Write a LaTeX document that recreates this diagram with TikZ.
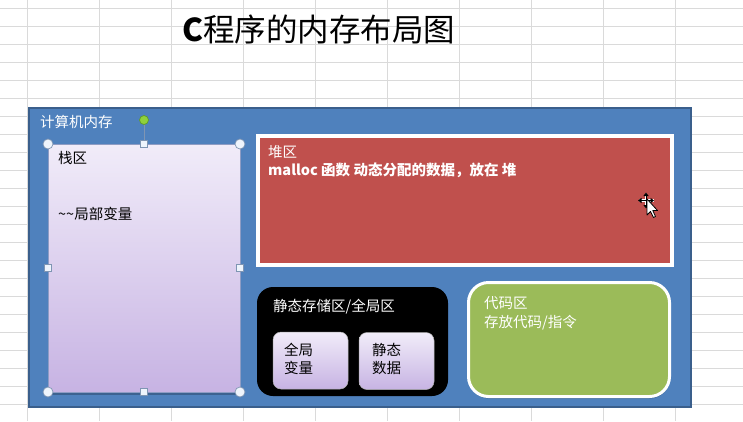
\documentclass[tikz,border=0pt]{standalone}
\usepackage{fontspec}
\setmainfont{Noto Sans CJK SC}
\usetikzlibrary{shadows,arrows.meta}
\definecolor{gridgray}{HTML}{DADADA}
\definecolor{memblue}{HTML}{4F81BD}
\definecolor{memedge}{HTML}{3A5F8C}
\definecolor{heapred}{HTML}{C0504D}
\definecolor{codegreen}{HTML}{9BBB59}
\definecolor{lavtop}{HTML}{F1ECF9}
\definecolor{lavbot}{HTML}{C7B3E3}
\definecolor{lavedge}{HTML}{8E9CC4}
\definecolor{handleedge}{HTML}{7F95B3}
\definecolor{handlefill}{HTML}{EEF4FC}
\definecolor{rotgreen}{HTML}{8FD13B}
\definecolor{rotedge}{HTML}{5E9A2A}
\tikzset{
  txt/.style={inner sep=0pt, font=\fontsize{14.5}{18}\selectfont, align=left},
  memory/.style={draw=memedge, line width=2pt, fill=memblue, inner sep=0pt,
    minimum width=662pt, minimum height=299pt},
  stackbox/.style={draw=lavedge, line width=0.6pt, top color=lavtop, bottom color=lavbot,
    inner sep=0pt, minimum width=192pt, minimum height=248pt,
    drop shadow={shadow xshift=0.5pt, shadow yshift=-2.5pt, fill=memedge, opacity=0.9}},
  heapbox/.style={draw=white, line width=4pt, fill=heapred, inner sep=0pt,
    minimum width=414pt, minimum height=129pt,
    drop shadow={shadow xshift=0.5pt, shadow yshift=-2pt, fill=memedge, opacity=0.8}},
  staticbox/.style={fill=black, rounded corners=16pt, inner sep=0pt,
    minimum width=191pt, minimum height=109pt},
  innerbox/.style={draw=gray!60, line width=0.5pt, top color=lavtop, bottom color=lavbot,
    rounded corners=8pt, inner sep=0pt, minimum width=75pt, minimum height=57pt},
  codebox/.style={draw=white, line width=3pt, fill=codegreen, rounded corners=20pt,
    inner sep=0pt, minimum width=201pt, minimum height=114pt,
    drop shadow={shadow xshift=0.5pt, shadow yshift=-2pt, fill=memedge, opacity=0.8}},
  cornerhandle/.style={circle, draw=handleedge, line width=0.7pt, fill=handlefill,
    inner sep=0pt, minimum size=10pt},
  sidehandle/.style={rectangle, draw=handleedge, line width=0.7pt, fill=handlefill,
    inner sep=0pt, minimum size=7.5pt},
  rothandle/.style={circle, draw=rotedge, line width=0.7pt, fill=rotgreen,
    inner sep=0pt, minimum size=9pt},
}
\begin{document}
\begin{tikzpicture}[x=1pt,y=-1pt]
\useasboundingbox (0,0) rectangle (743,421);
\fill[white] (0,0) rectangle (743,421);
% spreadsheet grid
\foreach \gx in {27.5,99.5,...,675.5} \draw[gridgray, line width=1pt] (\gx,0) -- (\gx,421);
\foreach \gy in {8.3,26.3,...,405} \draw[gridgray, line width=1pt] (0,\gy) -- (743,\gy);
% title
\node[anchor=west, inner sep=0pt, font=\fontsize{31.5}{36}\selectfont] (title) at (182,29) {{\bfseries C}程序的内存布局图};
% memory frame
\node[memory] (mem) at (360,257.5) {};
\node[txt, anchor=west, text=white] (memlabel) at (40,122) {计算机内存};
% stack
\node[stackbox] (stack) at (144,268) {};
\node[txt, anchor=north west, font=\fontsize{14.5}{18.7}\selectfont] (stacktext) at (58,151.3) {栈区\\[37.3pt]\textasciitilde\textasciitilde 局部变量};
% heap
\node[heapbox] (heap) at (465,200.5) {};
\node[txt, anchor=north west, text=white] (heaptext) at (268,145.3) {堆区\\{\bfseries malloc 函数 动态分配的数据，放在 堆}};
% static area
\node[staticbox] (static) at (352.5,341.5) {};
\node[txt, anchor=west, text=white] (statictext) at (273,307) {静态存储区/全局区};
\node[innerbox] (global) at (310.5,360.5) {};
\node[txt, anchor=north west] (globaltext) at (284,343.3) {全局\\变量};
\node[innerbox] (staticdata) at (396.5,361) {};
\node[txt, anchor=north west] (staticdatatext) at (372,343.3) {静态\\数据};
% code area
\node[codebox] (code) at (569,339.5) {};
\node[txt, anchor=north west, text=white, font=\fontsize{14.5}{19}\selectfont] (codetext) at (484,296.3) {代码区\\存放代码/指令};
% selection handles of the stack box
\node[sidehandle] (hT) at (144,144) {};
\node[rothandle] (rot) at (144,120) {};
\draw[handleedge, line width=0.8pt] (rot) -- (hT);
\node[cornerhandle] (hTL) at (48,144) {};
\node[cornerhandle] (hTR) at (240,144) {};
\node[cornerhandle] (hBL) at (48,392) {};
\node[cornerhandle] (hBR) at (240,392) {};
\node[sidehandle] (hB) at (144,392) {};
\node[sidehandle] (hL) at (48,268) {};
\node[sidehandle] (hR) at (240,268) {};
% mouse cursor (move)
\begin{scope}[shift={(646,200.5)}]
  \foreach \ang in {0,90,180,270}{
    \draw[white, line width=2.6pt, rotate=\ang] (0,0) -- (7.5,0);
  }
  \foreach \ang in {0,90,180,270}{
    \draw[black, line width=1pt, -{Triangle[length=3.5pt,width=5pt]}, rotate=\ang] (0,0) -- (8,0);
  }
\end{scope}
\filldraw[fill=white, draw=black, line width=0.8pt, line join=round]
  (647,199) -- (647,215) -- (650.5,211.5) -- (653.5,217.5) -- (655.5,216.5) -- (652.8,210.5) -- (657.5,210.5) -- cycle;
\end{tikzpicture}
\end{document}
